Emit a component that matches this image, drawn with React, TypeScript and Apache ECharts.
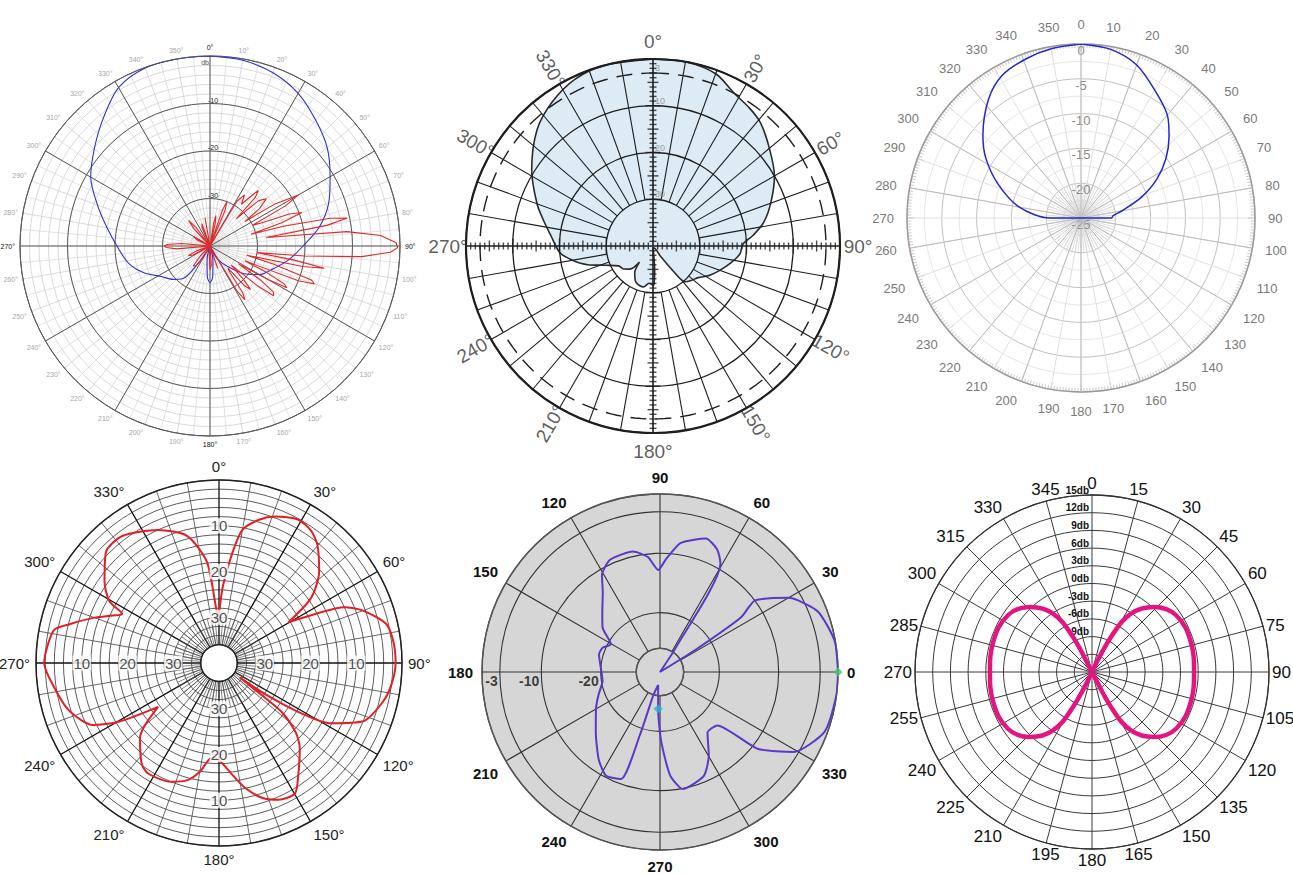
import React, { useEffect, useRef } from 'react';
import * as echarts from 'echarts';

const W = 1293;
const H = 874;
const FONT = 'Liberation Sans, Arial, Helvetica, sans-serif';

type PT = [number, number]; // [angle in degrees, level in dB]

// ---------- Panel 1 (top left): two patterns, dB scale -40..0 ----------
const P1_BLUE: PT[] = [
  [0, 0], [10, -0.3], [20, -1.2], [30, -2.9], [40, -5.4], [50, -7.8], [60, -10.8], [70, -13.4],
  [80, -16.6], [90, -20.4], [100, -23.2], [110, -25.9], [120, -28], [130, -31.1], [140, -34.5],
  [149, -36.6], [155, -38.5], [160, -40], [168, -37], [175, -33.5], [180, -32.3], [185, -33.5],
  [192, -37], [200, -40], [205, -40], [214, -36], [220, -31], [228, -29.5], [238, -27.9],
  [248, -25], [258, -22.5], [270, -20.4], [280, -18], [290, -14.8], [300, -11], [310, -8.2],
  [320, -5], [330, -1.5], [340, -0.1], [350, 0], [360, 0],
];
const P1_RED: PT[] = [
  [0, -40], [7, -40], [9, -35], [11, -33.5], [13, -35], [15, -40],
  [17, -40], [19, -32], [21, -30], [23, -32], [25, -40],
  [28, -40], [31, -29], [34, -27], [37, -29], [39, -27], [41, -24.5], [43, -26],
  [44, -32], [47, -26], [50, -24.5], [53, -27],
  [55, -31], [57, -24], [60, -18.5], [62, -22], [64, -30],
  [66, -28], [68, -22], [70, -19.4], [72, -24], [74, -31],
  [75, -24], [77, -14], [78.5, -10.5], [80, -15], [81.5, -28],
  [84, -11], [86.5, -4], [89, -0.8], [90.5, -0.5], [92, -2], [94, -8], [96, -20], [98, -30],
  [99.5, -22], [101, -15.5], [102.5, -20], [104, -32],
  [106, -26], [108.5, -17.5], [110, -16.6], [111.5, -20], [113, -32],
  [115, -27], [117, -22.5], [118.5, -21.6], [120, -26], [122, -33],
  [124, -27], [126, -23.5], [128, -23], [130, -27], [132, -34],
  [135, -30], [137, -27.5], [139, -29], [141, -34],
  [143, -33], [145, -28], [147, -26.5], [149, -29], [151, -40],
  [158, -40], [161, -35], [164, -40],
  [172, -40], [176, -36], [180, -35], [184, -38], [188, -40],
  [205, -40], [210, -37], [215, -35], [220, -34.5], [224, -37], [228, -40],
  [236, -40], [242, -36], [246, -35], [250, -37], [254, -40],
  [262, -40], [265, -33], [268, -30.8], [270, -30.4], [272, -31], [275, -34], [278, -40],
  [290, -40], [295, -37], [300, -36], [305, -40],
  [312, -40], [317, -35], [320, -33], [323, -35], [327, -40],
  [332, -40], [336, -36], [340, -35], [344, -40],
  [347, -40], [350, -34], [353, -40], [360, -40],
];
const P1_UNIT_LABEL = 'db';

// ---------- Panel 2 (top middle): filled pattern, attenuation 0..40 ----------
const P2_PATTERN: PT[] = [
  [0, 0], [10, 0], [20, -0.8], [28, -3], [35, -4], [41, -5], [50, -7.5], [60, -10], [70, -13.2],
  [78, -15.8], [84, -18.5], [89, -20.8], [95, -21.3], [102, -22.9], [111, -25], [118, -26.5],
  [125, -28.2], [132, -29], [138, -29.7], [141, -33], [144, -37.5], [150, -39.5], [170, -39.5],
  [176, -35], [179, -31.5], [186, -32], [193, -31], [205, -31.4], [214, -33], [220, -35.5],
  [225, -33], [232, -32], [240, -31.5], [248, -29], [254, -25.5], [260, -22.5], [266, -20],
  [276, -18], [283, -16], [290, -13.6], [302, -9.4], [315, -4.9], [325, -2.4], [335, -0.6],
  [345, 0], [360, 0],
];
const P2_RING_LABELS = [-3, -10, -20, -30];
const P2_DASHED_RING = -3;
const P2_ANGLE_LABELS = [0, 30, 60, 90, 120, 150, 180, 210, 240, 270, 300, 330];

// ---------- Panel 3 (top right) ----------
const P3_BLUE: PT[] = [
  [0, 0], [10, -0.4], [20, -1.6], [30, -3.8], [40, -5.7], [47, -7.7], [55, -10.1], [63, -12.8],
  [71, -15.8], [80, -19], [86, -20.4], [90, -20.6], [90, -25], [270, -25], [270, -20.5],
  [280, -16], [292, -12.2], [302, -8.9], [310, -6.6], [322, -3.4], [331, -1.6], [341, -0.8],
  [350, -0.3], [360, 0],
];

// ---------- Panel 4 (bottom left): five-lobe pattern ----------
const P4_RED: PT[] = [
  [0, -29.3], [3, -23], [7, -15.6], [10, -10.4], [15.6, -7.5], [21, -5.7], [29, -4.2], [35, -4.8],
  [40, -6.5], [47.7, -10.4], [54.8, -15.4], [59.6, -22.4], [62.9, -16.6], [66, -10], [70, -6.5],
  [76.8, -2.5], [83, -1.6], [90, -1.4], [97, -2], [103.4, -3.2], [112, -6], [118.3, -12.2],
  [121.7, -19.7], [124, -27.6], [125, -34.5], [127, -28], [128, -22.6], [132, -17.5],
  [136.4, -14.4], [145.2, -9.7], [149.8, -7], [156.5, -7.4], [162.2, -9], [168, -12],
  [172.9, -15.2], [180.5, -19], [184.3, -19.3], [189.8, -16], [195, -13.5], [202, -12],
  [212.5, -11.3], [217.4, -12.2], [226.5, -16.2], [230, -18.9], [234.2, -23.6], [239.6, -14.6],
  [243.8, -9.3], [251.8, -5.8], [259.7, -4], [270, -1.8], [281.2, -3.2], [284.7, -6.4],
  [290, -11], [294, -14.5], [296.8, -16.3], [299.4, -12.5], [305.4, -9.3], [314.4, -5.4],
  [322.7, -5.1], [335.4, -8], [346, -11.4], [353.2, -17.8], [357.5, -28.6], [360, -29.3],
];
const P4_RADIAL_LABELS = [-10, -20, -30];
const P4_LABEL_ANGLES = [0, 90, 180, 270];

// ---------- Panel 5 (bottom middle): counter-clockwise from east ----------
const P5_PURPLE: PT[] = [
  [0, 0], [10, -0.1], [21, -1.5], [30, -5], [37, -10], [34, -13.5], [32, -23], [30, -30],
  [57, -25], [61, -9], [65, -7.2], [71, -6.2], [81, -8], [87, -11], [91, -12.8], [96, -10.5],
  [102.6, -9.2], [114, -9.3], [121, -11], [126, -13.6], [134, -16], [142, -17.7], [150.5, -20.5],
  [157, -19.5], [164, -19.3], [176, -20], [189, -20.2], [200, -19], [209.6, -17.6], [223, -15.2],
  [235, -12], [242.5, -10.3], [250, -10.8], [252.3, -18.9], [254, -26], [262, -27.8],
  [267, -23.8], [271, -18.3], [275.6, -12.5], [281, -9.9], [292.9, -11], [300.3, -13.7],
  [308, -17], [317, -16.8], [321.8, -9.1], [329.2, -3.7], [340, -0.5], [352.7, 0], [360, 0],
];
const P5_MARKER_GREEN: PT = [0, 0];
const P5_MARKER_CYAN: PT = [267, -23.8];
const P5_INNER = -26;
const P5_RINGS = [-26, -20, -10, -3, 0];
const P5_RING_LABELS = [-3, -10, -20];

// ---------- Panel 6 (bottom right): figure-eight ----------
const P6_PINK: PT[] = [
  [28, -15], [28.6, -8.1], [33.7, -3.1], [43.5, 0.2], [56, 2.2], [73.6, 2.5], [90, 2.3],
  [106.4, 2.5], [124, 2.2], [136.5, 0.2], [146.3, -3.1], [151.4, -8.1], [152, -15],
  [332, -15], [331.4, -8.1], [326.3, -3.1], [316.5, 0.2], [304, 2.2], [286.4, 2.5], [270, 2.3],
  [253.6, 2.5], [236, 2.2], [223.5, 0.2], [213.7, -3.1], [208.6, -8.1], [208, -15], [28, -15],
];

const toPolar = (pts: PT[]) => pts.map(([a, v]) => [v, a]);

function buildOption(): any {
  const polar: any[] = [];
  const angleAxis: any[] = [];
  const radiusAxis: any[] = [];
  const series: any[] = [];
  const HIDE = { show: false };

  const addPolar = (p: any, a: any, r: any) => {
    const i = polar.length;
    polar.push(p);
    angleAxis.push({
      type: 'value', min: 0, max: 360, startAngle: 90, clockwise: true,
      axisTick: HIDE, axisLabel: HIDE, axisLine: HIDE, splitLine: HIDE,
      ...a, polarIndex: i,
    });
    radiusAxis.push({
      type: 'value', axisTick: HIDE, axisLabel: HIDE, axisLine: HIDE, splitLine: HIDE,
      ...r, polarIndex: i,
    });
    return i;
  };
  const line = (pi: number, pts: any[], style: any, extra: any = {}) => ({
    type: 'line', coordinateSystem: 'polar', polarIndex: pi, data: pts, symbol: 'none',
    silent: true, lineStyle: style, ...extra,
  });

  // ----- Panel 1 -----
  const C1 = [210, 246];
  const R1 = 190;
  const p1 = addPolar({ center: C1, radius: R1 }, {
    interval: 10,
    axisLine: { show: true, lineStyle: { color: '#6a6a6a', width: 1 } },
    axisLabel: {
      show: true, margin: 5,
      formatter: (v: number) => (v % 90 === 0 ? `{k|${v}°}` : `{g|${v}°}`),
      rich: { k: { color: '#111', fontSize: 7 }, g: { color: '#a8a8a8', fontSize: 7 } },
    },
    splitLine: { show: true, lineStyle: { color: '#d0d0d0', width: 0.8 } },
    minorTick: { show: false, splitNumber: 2 },
    minorSplitLine: { show: true, lineStyle: { color: '#dadada', width: 0.8 } },
  }, {
    min: -40, max: 0, interval: 2,
    splitLine: { show: true, lineStyle: { color: '#d0d0d0', width: 0.8 } },
  });
  addPolar({ center: C1, radius: R1 }, {
    interval: 30, z: 1,
    splitLine: { show: true, lineStyle: { color: '#5a5a5a', width: 1 } },
  }, {
    min: -40, max: 0, interval: 10, z: 1,
    splitLine: { show: true, lineStyle: { color: '#5a5a5a', width: 1 } },
    axisLabel: {
      show: true, margin: 2, fontSize: 7, color: '#222', align: 'left', verticalAlign: 'bottom',
      formatter: (v: number) => (v === 0 || v === -40 ? '' : String(v)),
    },
  });
  series.push(line(p1, toPolar(P1_BLUE), { color: '#2f2fd6', width: 1.1 }, { smooth: 0.3 }));
  series.push(line(p1, toPolar(P1_RED), { color: '#e02a2a', width: 1.1 }));
  series.push({
    type: 'scatter', coordinateSystem: 'polar', polarIndex: p1, symbolSize: 0, silent: true, z: 5,
    data: [[-1.3, 0]],
    label: { show: true, position: 'left', distance: 1, color: '#222', fontSize: 7, formatter: P1_UNIT_LABEL },
  });

  // ----- Panel 2 -----
  const C2 = [653, 246];
  const R2 = 187;
  const p2 = addPolar({ center: C2, radius: R2 }, {
    interval: 90, z: 5,
    axisLine: { show: true, lineStyle: { color: '#1e1e1e', width: 2.2 } },
    splitLine: { show: true, lineStyle: { color: '#1e1e1e', width: 1.6 } },
  }, {
    min: -40, max: 0, interval: 10, z: 5,
    splitLine: { show: true, lineStyle: { color: '#1e1e1e', width: 1.3 } },
  });
  series.push(line(p2, toPolar(P2_PATTERN), { color: '#2a2a2a', width: 1.6 }, {
    smooth: 0.3, areaStyle: { color: '#dcebf4', opacity: 1, origin: 'start' }, z: 2,
  }));
  for (let a = 0; a < 360; a += 10) {
    if (a % 90 === 0) continue;
    series.push(line(p2, [[-30, a], [0, a]], { color: '#1e1e1e', width: 1.1 }, { z: 4 }));
  }
  const dashPts: any[] = [];
  for (let a = 0; a <= 360; a += 2) dashPts.push([P2_DASHED_RING, a]);
  series.push(line(p2, dashPts, { color: '#1e1e1e', width: 1.4, type: [16, 9] }, { z: 4 }));
  const rulerV: any[] = [];
  const rulerH: any[] = [];
  for (let k = 1; k <= 39; k++) {
    const len = k % 10 === 0 ? 15 : k % 5 === 0 ? 11 : 7;
    const v = -40 + k;
    rulerV.push({ value: [v, 0], symbolSize: [len, 1.4] });
    rulerV.push({ value: [v, 180], symbolSize: [len, 1.4] });
    rulerH.push({ value: [v, 90], symbolSize: [1.4, len] });
    rulerH.push({ value: [v, 270], symbolSize: [1.4, len] });
  }
  series.push({
    type: 'scatter', coordinateSystem: 'polar', polarIndex: p2, symbol: 'rect', silent: true,
    data: rulerV.concat(rulerH), itemStyle: { color: '#1e1e1e' }, z: 6,
  });
  series.push({
    type: 'scatter', coordinateSystem: 'polar', polarIndex: p2, symbolSize: 0, silent: true, z: 7,
    data: P2_RING_LABELS.map((v) => [v, 0]),
    label: {
      show: true, position: 'right', distance: 2, offset: [0, -5], color: '#8a8a8a', fontSize: 9,
      formatter: (p: any) => String(Math.abs(p.value[0])),
    },
  });
  const p2L = addPolar({ center: C2, radius: 205 }, {}, { min: 0, max: 1 });
  series.push({
    type: 'scatter', coordinateSystem: 'polar', polarIndex: p2L, symbolSize: 0, silent: true,
    data: P2_ANGLE_LABELS.map((a) => ({
      value: [1, a],
      label: { rotate: a % 90 === 0 ? 0 : a < 180 ? 90 - a : 270 - a },
    })),
    label: {
      show: true, position: 'inside', color: '#333', fontSize: 19, fontFamily: FONT,
      formatter: (p: any) => `${p.value[1]}°`,
    },
  });

  // ----- Panel 3 -----
  const C3 = [1081, 218];
  const R3 = 174;
  const p3 = addPolar({ center: C3, radius: R3 }, {
    interval: 10,
    axisLine: { show: true, lineStyle: { color: '#9a9a9a', width: 1.5 } },
    axisTick: { show: true, inside: true, length: 7, lineStyle: { color: '#b0b0b0' } },
    minorTick: { show: true, splitNumber: 10, length: 4, lineStyle: { color: '#cacaca' } },
    axisLabel: { show: true, margin: 13, color: '#7a7a7a', fontSize: 13 },
    splitLine: { show: true, lineStyle: { color: '#e0e0e0' } },
  }, {
    min: -25, max: 0, interval: 5,
    splitLine: { show: true, lineStyle: { color: '#c2c2c2' } },
    minorTick: { show: false, splitNumber: 2 },
    minorSplitLine: { show: true, lineStyle: { color: '#e6e6e6' } },
    axisLabel: {
      show: true, color: '#8a8a8a', fontSize: 13, align: 'center', verticalAlign: 'top', margin: 0,
      formatter: (v: number) => String(v),
    },
  });
  addPolar({ center: C3, radius: R3 }, {
    interval: 20, z: 1, splitLine: { show: true, lineStyle: { color: '#bdbdbd' } },
  }, { min: -25, max: 0 });
  addPolar({ center: C3, radius: R3 * 0.2 }, {
    interval: 5, splitLine: { show: true, lineStyle: { color: '#d6d6d6', width: 0.8 } },
  }, { min: 0, max: 1 });
  series.push(line(p3, toPolar(P3_BLUE), { color: '#2424d8', width: 1.5 }, { smooth: 0.3 }));

  // ----- Panel 4 -----
  const C4 = [219, 663];
  const R4 = 183;
  const p4 = addPolar({ center: C4, radius: [R4 * 4 / 40, R4] }, {
    interval: 30,
    axisLine: { show: true, lineStyle: { color: '#222', width: 1.5 } },
    axisLabel: {
      show: true, margin: 6, color: '#222', fontSize: 15, formatter: (v: number) => `${v}°`,
    },
    splitLine: { show: true, lineStyle: { color: '#111', width: 1.3 } },
    minorTick: { show: false, splitNumber: 3 },
    minorSplitLine: { show: true, lineStyle: { color: '#444', width: 0.8 } },
  }, {
    min: -36, max: 0, interval: 2,
    splitLine: { show: true, lineStyle: { color: '#333', width: 0.8 } },
  });
  addPolar({ center: C4, radius: [R4 * 4 / 40, R4 * 10 / 40] }, {
    interval: 5, splitLine: { show: true, lineStyle: { color: '#555', width: 0.7 } },
  }, { min: 0, max: 1 });
  series.push(line(p4, toPolar(P4_RED), { color: '#e31e24', width: 2 }, { smooth: 0.25 }));
  const p4lab: any[] = [];
  P4_RADIAL_LABELS.forEach((v) => P4_LABEL_ANGLES.forEach((a) => p4lab.push([v, a])));
  series.push({
    type: 'scatter', coordinateSystem: 'polar', polarIndex: p4, symbolSize: 0, silent: true, z: 6,
    data: p4lab,
    label: {
      show: true, position: 'inside', color: '#222', fontSize: 15, backgroundColor: '#fff',
      padding: [0, 1], formatter: (p: any) => String(Math.abs(p.value[0])),
    },
  });

  // ----- Panel 5 -----
  const C5 = [660, 672];
  const R5 = 178;
  // grey disc underneath, also carries the data
  const p5 = addPolar({ center: C5, radius: R5 }, { startAngle: 0, clockwise: false }, {
    min: -30, max: 0, interval: 30,
    splitArea: { show: true, areaStyle: { color: ['#d6d6d6'] } },
  });
  addPolar({ center: C5, radius: [R5 * (P5_INNER + 30) / 30, R5] }, {
    interval: 30, startAngle: 0, clockwise: false, z: 1,
    axisLine: { show: true, lineStyle: { color: '#555', width: 1.5 } },
    axisLabel: {
      show: true, margin: 9, color: '#111', fontSize: 15, fontWeight: 'bold',
      formatter: (v: number) => String(v),
    },
    splitLine: { show: true, lineStyle: { color: '#333', width: 1.1 } },
  }, {
    min: P5_INNER, max: 0, z: 1,
    axisTick: { show: false, customValues: P5_RINGS },
    splitLine: { show: true, lineStyle: { color: '#333', width: 1.1 } },
  });
  series.push(line(p5, toPolar(P5_PURPLE), { color: '#5a38c8', width: 2 }, { smooth: 0.2 }));
  series.push({
    type: 'scatter', coordinateSystem: 'polar', polarIndex: p5, symbol: 'diamond', symbolSize: 9,
    silent: true, z: 5,
    data: [
      { value: [P5_MARKER_GREEN[1], P5_MARKER_GREEN[0]], itemStyle: { color: '#49c46b' } },
      { value: [P5_MARKER_CYAN[1], P5_MARKER_CYAN[0]], itemStyle: { color: '#2bb3d9' } },
    ],
  });
  series.push({
    type: 'scatter', coordinateSystem: 'polar', polarIndex: p5, symbolSize: 0, silent: true, z: 6,
    data: P5_RING_LABELS.map((v) => [v, 180]),
    label: {
      show: true, position: 'left', distance: 2, offset: [0, 9], color: '#111', fontSize: 14,
      fontWeight: 'bold', formatter: (p: any) => String(p.value[0]),
    },
  });

  // ----- Panel 6 -----
  const C6 = [1092, 672];
  const R6 = 177;
  const p6 = addPolar({ center: C6, radius: R6 }, {
    interval: 15,
    axisLine: { show: true, lineStyle: { color: '#333', width: 1.3 } },
    axisLabel: { show: true, margin: 3, color: '#111', fontSize: 17, formatter: (v: number) => String(v) },
    splitLine: { show: true, lineStyle: { color: '#3a3a3a', width: 1 } },
  }, {
    min: -15, max: 15, interval: 3,
    splitLine: { show: true, lineStyle: { color: '#3a3a3a', width: 1 } },
    axisLabel: {
      show: true, margin: 3, fontSize: 10, fontWeight: 'bold', color: '#111', align: 'right',
      verticalAlign: 'bottom', formatter: (v: number) => (v <= -12 ? '' : `${v}db`),
    },
  });
  series.push(line(p6, toPolar(P6_PINK), { color: '#e4157f', width: 4.5 }, { smooth: 0.4 }));

  return {
    animation: false,
    backgroundColor: '#fff',
    textStyle: { fontFamily: FONT },
    polar, angleAxis, radiusAxis, series,
  };
}

export default function App() {
  const ref = useRef<HTMLDivElement>(null);
  useEffect(() => {
    const chart = echarts.init(ref.current!, null, { renderer: 'svg' });
    chart.setOption(buildOption());
    return () => chart.dispose();
  }, []);
  return (
    <div
      ref={ref}
      style={{ position: 'absolute', left: 0, top: 0, width: W, height: H, background: '#fff' }}
    />
  );
}
